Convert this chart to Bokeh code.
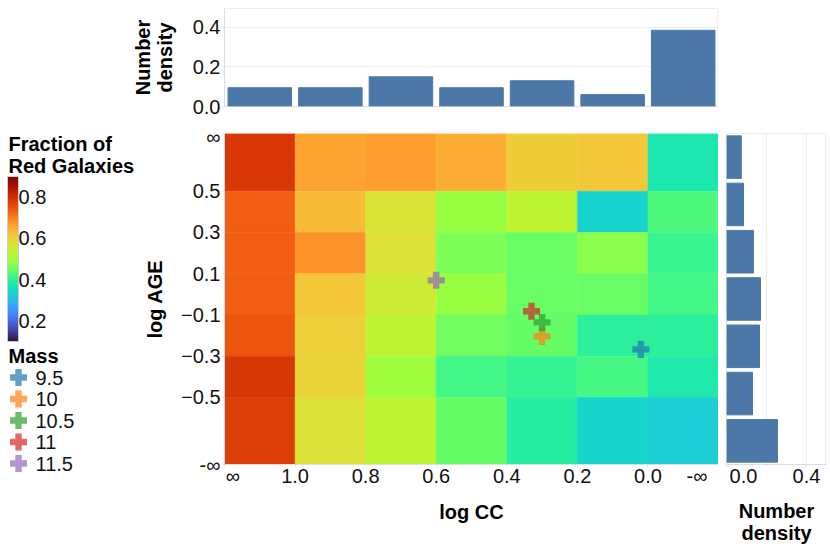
from bokeh.core.properties import value
from bokeh.embed import file_html
from bokeh.layouts import column, row
from bokeh.models import ColorBar, ColumnDataSource, FixedTicker, LinearColorMapper, Range1d, Span
from bokeh.palettes import Turbo256
from bokeh.plotting import figure
from bokeh.resources import INLINE

FONT = "Liberation Sans"
TICK_SIZE = "20px"
TITLE_SIZE = "20px"
PAD = "\u00a0"

# bin edges, the two end values stand in for the open ended bins
cc_edges = [1.2, 1.0, 0.8, 0.6, 0.4, 0.2, 0.0, -0.2]
age_edges = [0.78, 0.5, 0.3, 0.1, -0.1, -0.3, -0.5, -0.825]
cc_tick_labels = [PAD * 3 + "\u221e", "1.0", "0.8", "0.6", "0.4", "0.2", "0.0", "-\u221e" + PAD * 2]
age_tick_labels = ["\u221e", "0.5", "0.3", "0.1", "\u22120.1", "\u22120.3", "\u22120.5", "-\u221e"]

# fraction of red galaxies, rows from top (high age) to bottom
fraction_rows = [
    [0.785, 0.66, 0.668, 0.648, 0.604, 0.612, 0.372],
    [0.735, 0.632, 0.568, 0.488, 0.532, 0.335, 0.428],
    [0.735, 0.68, 0.572, 0.464, 0.448, 0.476, 0.408],
    [0.735, 0.61, 0.552, 0.488, 0.448, 0.448, 0.416],
    [0.745, 0.60, 0.532, 0.456, 0.444, 0.395, 0.395],
    [0.79, 0.595, 0.496, 0.416, 0.404, 0.42, 0.38],
    [0.775, 0.572, 0.532, 0.444, 0.388, 0.34, 0.33],
]

cc_density = [0.095, 0.095, 0.15, 0.095, 0.13, 0.06, 0.385]
age_density = [0.074, 0.085, 0.135, 0.17, 0.165, 0.13, 0.255]

masses = ["9.5", "10", "10.5", "11", "11.5"]
mass_colors = ["#1f77b4", "#ff7f0e", "#2ca02c", "#d62728", "#9467bd"]
mass_cc = [0.02, 0.30, 0.30, 0.33, 0.60]
mass_age = [-0.267, -0.204, -0.136, -0.082, 0.068]

density_ticks = [0.0, 0.2, 0.4]

mapper = LinearColorMapper(palette=Turbo256, low=0.1, high=0.9)
cc_range = Range1d(1.2, -0.2)
age_range = Range1d(-0.825, 0.78)


def style_axis(ax):
    ax.major_label_text_font = FONT
    ax.major_label_text_font_size = TICK_SIZE
    ax.major_label_text_color = "#111111"
    ax.axis_label_text_font = FONT
    ax.axis_label_text_font_size = TITLE_SIZE
    ax.axis_label_text_font_style = "bold"
    ax.axis_label_text_color = "#000000"
    ax.axis_label_text_line_height = 1.0
    ax.axis_line_color = "#dddddd"
    ax.major_tick_line_color = "#dddddd"
    ax.minor_tick_line_color = None
    ax.major_tick_in = 0
    ax.major_tick_out = 2


# heatmap
main = figure(width=580, height=423, x_range=cc_range, y_range=age_range,
              x_axis_label="log CC", y_axis_label="log AGE",
              output_backend="svg", toolbar_location=None,
              min_border_left=86, min_border_right=0, min_border_top=8, min_border_bottom=84)
main.grid.visible = False
main.outline_line_color = None

lefts, rights, tops, bottoms, fractions = [], [], [], [], []
for i, fraction_row in enumerate(fraction_rows):
    for j, fraction in enumerate(fraction_row):
        lefts.append(cc_edges[j])
        rights.append(cc_edges[j + 1])
        tops.append(age_edges[i])
        bottoms.append(age_edges[i + 1])
        fractions.append(fraction)
cells = ColumnDataSource(dict(left=lefts, right=rights, top=tops, bottom=bottoms, fraction=fractions))
main.quad(left="left", right="right", top="top", bottom="bottom", source=cells,
          fill_color={"field": "fraction", "transform": mapper},
          line_color={"field": "fraction", "transform": mapper}, line_width=0.5)
main.scatter(mass_cc, mass_age, marker="plus", size=17, color=mass_colors, alpha=0.7, line_color=None)

for ax in (main.xaxis[0], main.yaxis[0]):
    style_axis(ax)
main.xaxis[0].ticker = FixedTicker(ticks=cc_edges)
main.xaxis[0].major_label_overrides = dict(zip(cc_edges, cc_tick_labels))
main.xaxis[0].major_label_standoff = -2
main.xaxis[0].axis_label_standoff = 11
main.yaxis[0].ticker = FixedTicker(ticks=age_edges)
main.yaxis[0].major_label_overrides = dict(zip(age_edges, age_tick_labels))
main.yaxis[0].major_label_standoff = 2
main.yaxis[0].axis_label_standoff = 12

# histogram above
top = figure(width=718, height=125, x_range=cc_range, y_range=Range1d(0, 0.495),
             y_axis_label="Number\ndensity", x_axis_location=None,
             output_backend="svg", toolbar_location=None,
             min_border_left=224, min_border_right=0, min_border_top=8, min_border_bottom=19)
centers = [(a + b) / 2 for a, b in zip(cc_edges[:-1], cc_edges[1:])]
top.vbar(x=centers, top=cc_density, bottom=0, width=0.18, color="#4c78a8")
top.xgrid.visible = False
top.ygrid.grid_line_color = "#eeeeee"
top.ygrid.ticker = FixedTicker(ticks=density_ticks)
top.outline_line_color = "#eeeeee"
style_axis(top.yaxis[0])
top.yaxis[0].ticker = FixedTicker(ticks=density_ticks)
top.yaxis[0].major_label_overrides = {0.0: "0.0"}
top.yaxis[0].major_label_standoff = 2
top.yaxis[0].axis_label_standoff = 14
top.add_layout(Span(location=0, dimension="width", line_color="#cccccc", line_width=1))

# histogram at the right
side = figure(width=108, height=423, x_range=Range1d(0, 0.5), y_range=Range1d(6.5, -0.5),
              x_axis_label="Number\ndensity", y_axis_location=None,
              output_backend="svg", toolbar_location=None,
              min_border_left=8, min_border_right=0, min_border_top=8, min_border_bottom=84)
side.hbar(y=list(range(len(age_density))), right=age_density, left=0, height=0.9, color="#4c78a8")
side.ygrid.visible = False
side.xgrid.grid_line_color = "#eeeeee"
side.xgrid.ticker = FixedTicker(ticks=density_ticks)
side.outline_line_color = "#eeeeee"
style_axis(side.xaxis[0])
side.xaxis[0].ticker = FixedTicker(ticks=density_ticks)
side.xaxis[0].major_label_overrides = {0.0: PAD * 2 + "0.0", 0.2: ""}
side.xaxis[0].major_label_standoff = -2
side.xaxis[0].axis_label_standoff = 10
side.add_layout(Span(location=0, dimension="height", line_color="#cccccc", line_width=1))

# legends, this panel is measured in pixels of the page
legend = figure(width=138, height=423, x_range=Range1d(0, 138), y_range=Range1d(548, 125),
                x_axis_location=None, y_axis_location=None, frame_align=False,
                output_backend="svg", toolbar_location=None,
                min_border_left=0, min_border_right=0, min_border_top=0, min_border_bottom=0)
legend.grid.visible = False
legend.outline_line_color = None
legend.text([8, 8, 8], [143, 165, 355], text=["Fraction of", "Red Galaxies", "Mass"],
            text_font=value(FONT), text_font_size=TITLE_SIZE, text_font_style="bold",
            text_baseline="middle", text_color="#000000")
rows_y = [377 + 21.5 * i for i in range(len(masses))]
legend.scatter([18] * len(masses), rows_y, marker="plus", size=17, color=mass_colors, alpha=0.7, line_color=None)
legend.text([35] * len(masses), rows_y, text=masses, text_font=value(FONT), text_font_size=TICK_SIZE,
            text_baseline="middle", text_color="#111111")

bar = ColorBar(color_mapper=mapper, width=11, height=165, padding=0, location=(7, 207),
               ticker=FixedTicker(ticks=[0.2, 0.4, 0.6, 0.8]),
               major_label_text_font=FONT, major_label_text_font_size=TICK_SIZE,
               major_label_text_color="#111111", major_tick_line_color=None,
               minor_tick_line_color=None, bar_line_color="#cccccc", label_standoff=0,
               background_fill_color=None, border_line_color=None)
legend.add_layout(bar, "center")

page = column(top, row(legend, main, side, spacing=0), spacing=0)

open("out.html", "w").write(file_html(page, INLINE))
